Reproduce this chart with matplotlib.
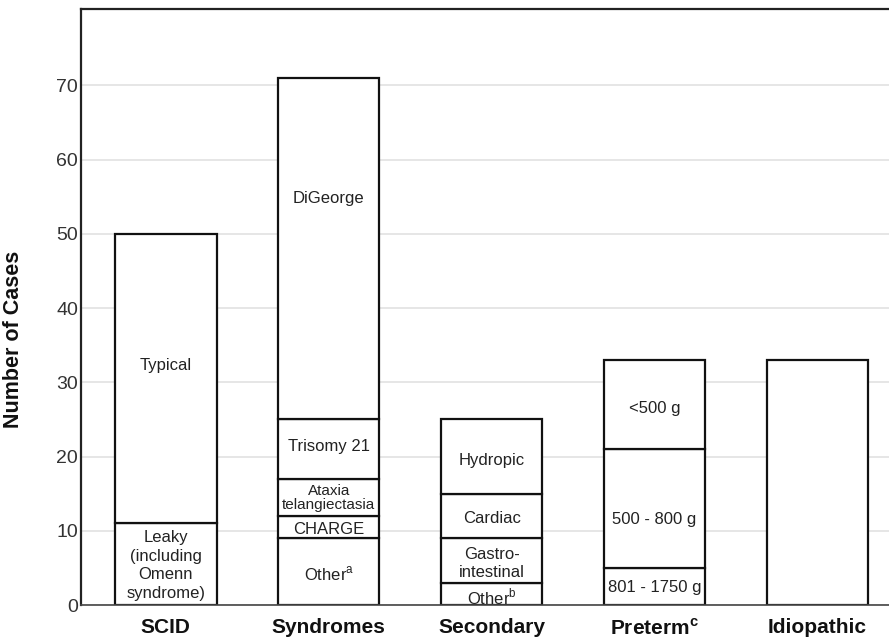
import matplotlib
matplotlib.use("Agg")
import matplotlib.pyplot as plt
import numpy as np

plt.rcParams['font.family'] = ['Liberation Sans', 'DejaVu Sans']
plt.rcParams['mathtext.fontset'] = 'custom'
plt.rcParams['mathtext.rm'] = 'Liberation Sans'

# ---- data ----
categories = ["SCID", "Syndromes", "Secondary", r"Preterm$^{\mathregular{c}}$", "Idiopathic"]

scid_labels = ["Leaky\n(including\nOmenn\nsyndrome)", "Typical"]
scid_values = [11, 39]

syndromes_labels = [r"Other$^{\mathregular{a}}$", "CHARGE", "Ataxia\ntelangiectasia", "Trisomy 21", "DiGeorge"]
syndromes_values = [9, 3, 5, 8, 46]

secondary_labels = [r"Other$^{\mathregular{b}}$", "Gastro-\nintestinal", "Cardiac", "Hydropic"]
secondary_values = [3, 6, 6, 10]

preterm_labels = ["801 - 1750 g", "500 - 800 g", "<500 g"]
preterm_values = [5, 16, 12]

idiopathic_labels = [""]
idiopathic_values = [33]

yticks = [0, 10, 20, 30, 40, 50, 60, 70]

# ---- layout (label vertical placement within segments, font sizes) ----
label_y = [
    [5.3, 32.3],
    [4.2, 10.2, 14.4, 21.3, 54.8],
    [1.1, 5.6, 11.6, 19.5],
    [2.3, 11.5, 26.5],
    [None],
]
label_size = [
    [12, 12],
    [12, 12, 11, 12, 12],
    [12, 12, 12, 12],
    [12, 12, 12],
    [12],
]
label_spacing = [
    [1.3, 1.0],
    [1.0, 1.0, 0.95, 1.0, 1.0],
    [1.0, 1.3, 1.0, 1.0],
    [1.0, 1.0, 1.0],
    [1.0],
]

all_labels = [scid_labels, syndromes_labels, secondary_labels, preterm_labels, idiopathic_labels]
all_values = [scid_values, syndromes_values, secondary_values, preterm_values, idiopathic_values]

fig = plt.figure(figsize=(8.89, 6.42), dpi=100)
ax = fig.add_axes([0.0908, 0.0576, 0.9092, 0.9284])

x = np.arange(len(categories))
width = 0.623

for i, (labs, vals) in enumerate(zip(all_labels, all_values)):
    bottom = 0
    for j, (lab, v) in enumerate(zip(labs, vals)):
        ax.bar(x[i], v, bottom=bottom, width=width, color='white',
               edgecolor='#111111', linewidth=1.6, zorder=2)
        if lab:
            ax.text(x[i], label_y[i][j], lab, ha='center', va='center',
                    fontsize=label_size[i][j], color='#222222',
                    linespacing=label_spacing[i][j], zorder=3)
        bottom += v

ax.set_xlim(-0.5225, 4.44)
ax.set_ylim(0, 80.3)
ax.set_yticks(yticks)
ax.set_xticks(x)
ax.set_xticklabels(categories, fontsize=15, fontweight='bold', color='#111111')
ax.tick_params(axis='y', length=0, pad=2, labelsize=14, labelcolor='#333333')
ax.tick_params(axis='x', length=0, pad=9)

ax.yaxis.grid(True, color='#e4e4e4', linewidth=1.3)
ax.set_axisbelow(True)

ax.spines['right'].set_visible(False)
ax.spines['left'].set_color('#222222')
ax.spines['left'].set_linewidth(1.6)
ax.spines['top'].set_color('#222222')
ax.spines['top'].set_linewidth(1.6)
ax.spines['bottom'].set_color('#444444')
ax.spines['bottom'].set_linewidth(1.2)

ax.set_ylabel("Number of Cases", fontsize=15.5, fontweight='bold', color='#111111')
ax.yaxis.set_label_coords(-0.070, 0.446)

fig.savefig("out.png", dpi=100)
